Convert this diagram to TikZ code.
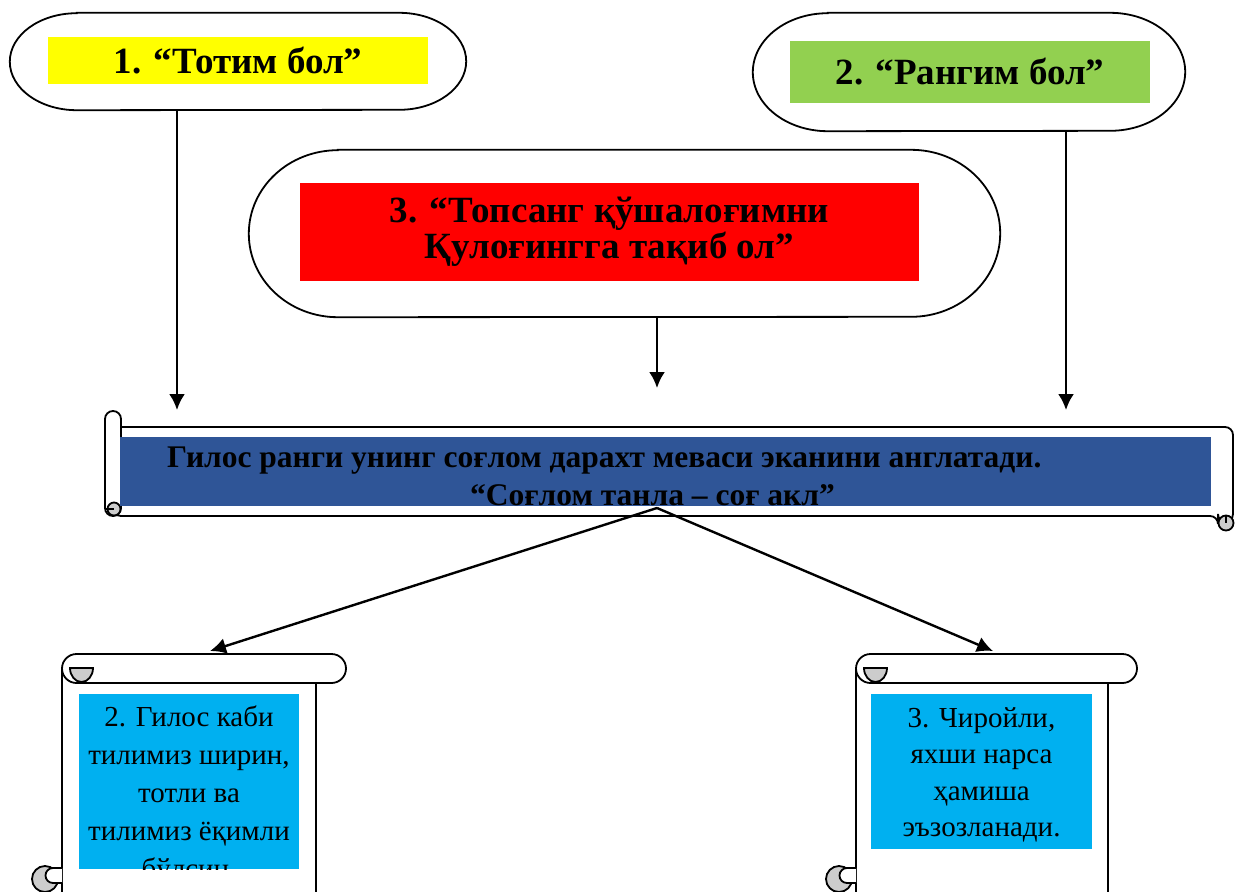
\documentclass[tikz,border=0pt]{standalone}
\usepackage{fontspec}
\setmainfont{Liberation Serif}
\usetikzlibrary{arrows.meta}
\definecolor{totyellow}{HTML}{FFFF00}
\definecolor{ranggreen}{HTML}{92D050}
\definecolor{topred}{HTML}{FF0000}
\definecolor{bandblue}{HTML}{2F5597}
\definecolor{notecyan}{HTML}{00B0F0}
\definecolor{curlgray}{HTML}{CCCCCC}
\begin{document}
\begin{tikzpicture}[x=1pt, y=-1pt,
    edge/.style={line width=1.8pt},
    pill/.style={inner sep=0pt},
    tag/.style={inner sep=0pt, align=center, font=\fontsize{37}{37}\selectfont\bfseries},
    arr/.style={line width=2.4pt, -{Latex[length=16pt,width=16pt]}},
    notetext/.style={inner sep=0pt, align=center, font=\fontsize{29}{38}\selectfont}]
    \useasboundingbox (0,0) rectangle (1235,892);
    \clip (0,0) rectangle (1235,892);

    % the three sayings
    \node[pill, minimum width=456pt, minimum height=97pt] (p1) at (238,61.5) {};
    \draw[edge, fill=white] ([xshift=67pt]p1.north west) -- ([xshift=-67pt]p1.north east) arc[start angle=-90, end angle=90, x radius=67, y radius=48.5] -- ([xshift=67pt]p1.south west) arc[start angle=90, end angle=270, x radius=67, y radius=48.5] -- cycle;
    \node[tag, fill=totyellow, minimum width=380pt, minimum height=47pt] (t1) at (238,60.5) {1. “Тотим бол”};
    \node[pill, minimum width=432pt, minimum height=118pt] (p2) at (969,72) {};
    \draw[edge, fill=white] ([xshift=75pt]p2.north west) -- ([xshift=-75pt]p2.north east) arc[start angle=-90, end angle=90, x radius=75, y radius=59] -- ([xshift=75pt]p2.south west) arc[start angle=90, end angle=270, x radius=75, y radius=59] -- cycle;
    \node[tag, fill=ranggreen, minimum width=360pt, minimum height=62pt] (t2) at (970,72) {2. “Рангим бол”};
    \node[pill, minimum width=751pt, minimum height=167pt] (p3) at (624.5,233.5) {};
    \draw[edge, fill=white] ([xshift=89pt]p3.north west) -- ([xshift=-89pt]p3.north east) arc[start angle=-90, end angle=90, x radius=89, y radius=83.5] -- ([xshift=89pt]p3.south west) arc[start angle=90, end angle=270, x radius=89, y radius=83.5] -- cycle;
    \node[tag, fill=topred, minimum width=619pt, minimum height=98pt, font=\fontsize{37}{36}\selectfont\bfseries] (t3) at (609.5,232) {3. “Топсанг қўшалоғимни\\Қулоғингга тақиб ол”};

    % horizontal scroll
    \draw[edge, fill=white, rounded corners=8pt] (113,427) -- (1233,427) -- (1233,522) -- (1218,522) -- (1218,516) -- (113,516) -- cycle;
    \draw[edge, fill=curlgray] (1226,523) circle (7.5);
    \draw[edge] (1226,516) -- (1226,523);
    \draw[edge, fill=white, rounded corners=8pt] (105,411) rectangle (121,516);
    \draw[edge, fill=curlgray] (114,509) circle (6.5);
    \draw[edge] (105,509) -- (114,509);
    \node[fill=bandblue, minimum width=1091pt, minimum height=69pt, inner sep=0pt] (band) at (665.5,471.5) {};
    \node[inner sep=0pt, align=left, anchor=base west, font=\fontsize{31.5}{38}\selectfont\bfseries] (msg) at (167,505) {Гилос ранги унинг соғлом дарахт меваси эканини англатади.\\\hspace*{303pt}“Соғлом танла – соғ акл”};

    % vertical scrolls
    \draw[edge, fill=white] (62,668) -- (62,900) -- (316,900) -- (316,683);
    \draw[edge, fill=white, rounded corners=14.5pt] (62,654) rectangle (346,683);
    \draw[edge, fill=curlgray] (70,668) arc[start angle=180, end angle=0, x radius=11.5, y radius=14] -- cycle;
    \draw[edge, fill=curlgray] (45,879) circle (13);
    \draw[edge, fill=white] (62,868) -- (53,868) arc[start angle=270, end angle=90, radius=7.5] -- (62,883);

    \draw[edge, fill=white] (856,668) -- (856,900) -- (1108,900) -- (1108,683);
    \draw[edge, fill=white, rounded corners=14.5pt] (856,654) rectangle (1137,683);
    \draw[edge, fill=curlgray] (864,668) arc[start angle=180, end angle=0, x radius=11.5, y radius=14] -- cycle;
    \draw[edge, fill=curlgray] (839,879) circle (13);
    \draw[edge, fill=white] (856,868) -- (847,868) arc[start angle=270, end angle=90, radius=7.5] -- (856,883);

    \node[fill=notecyan, minimum width=220pt, minimum height=175pt, inner sep=0pt] (n1) at (189,781.5) {};
    \begin{scope}
        \clip (79,694) rectangle (299,869);
        \node[notetext, anchor=north] (s1) at (189,706) {2. Гилос каби\\тилимиз ширин,\\тотли ва\\тилимиз ёқимли\\бўлсин.};
    \end{scope}
    \node[fill=notecyan, minimum width=221pt, minimum height=155pt, inner sep=0pt] (n2) at (981.5,771.5) {};
    \node[notetext, anchor=north, font=\fontsize{29}{36.5}\selectfont] (s2) at (981.5,707) {3. Чиройли,\\яхши нарса\\ҳамиша\\эъзозланади.};

    % connectors
    \coordinate (in1) at (177,410);
    \coordinate (in2) at (1066,410);
    \coordinate (in3) at (657,388);
    \coordinate (fork) at (657,508);
    \coordinate (out1) at (210,651);
    \coordinate (out2) at (993,651);
    \draw[arr] (in1 |- p1.south) -- (in1);
    \draw[arr] (in2 |- p2.south) -- (in2);
    \draw[arr] (in3 |- p3.south) -- (in3);
    \draw[arr] (fork) -- (out1);
    \draw[arr] (fork) -- (out2);
\end{tikzpicture}
\end{document}
